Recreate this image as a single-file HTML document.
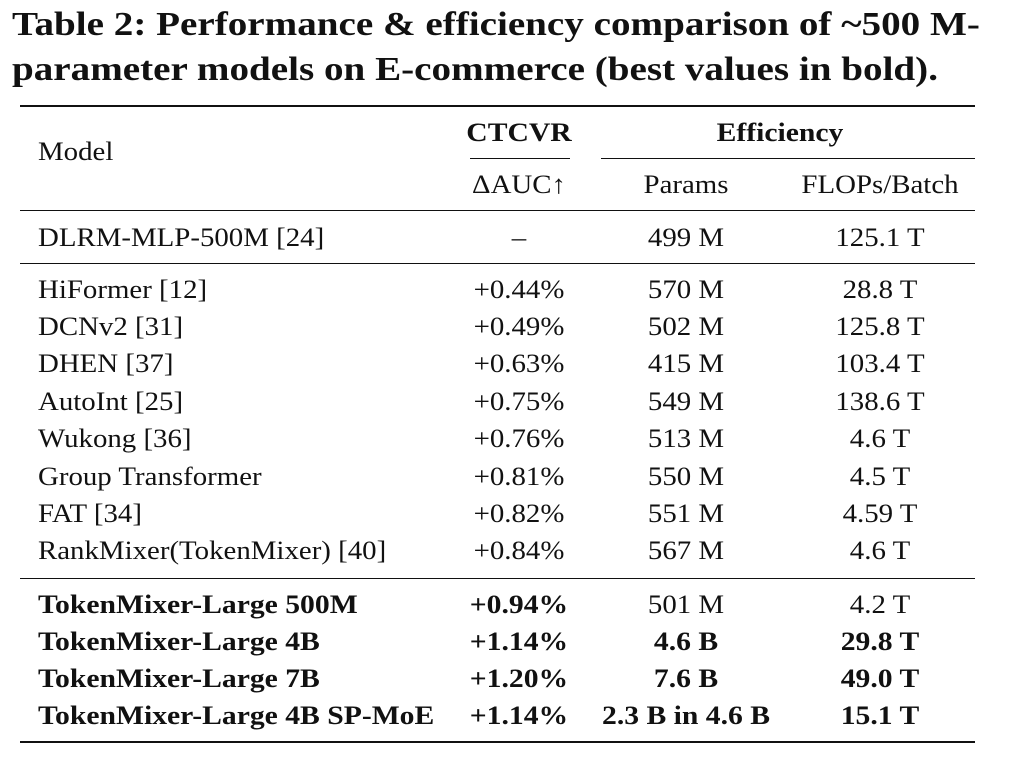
<!DOCTYPE html>
<html><head><meta charset="utf-8"><style>
body{margin:0;width:1009px;height:760px;background:#fff;position:relative;overflow:hidden;font-family:"Liberation Serif",serif;color:#111}
.t{position:absolute;white-space:nowrap;font-size:26px;line-height:30px;transform:scaleX(1.11);transform-origin:left center}
.c{transform:translateX(-50%) scaleX(1.11);transform-origin:center center}
.b{font-weight:bold}
.t.b{transform:scaleX(1.14)}
.t.c.b{transform:translateX(-50%) scaleX(1.14)}
.r{position:absolute;background:#111}
.title{position:absolute;left:12px;font-weight:bold;font-size:34px;line-height:40px;white-space:nowrap;transform:scaleX(1.15);transform-origin:left center}
</style></head><body>
<div class="title" style="top:5px">Table 2: Performance &amp; efficiency comparison of ~500 M-</div>
<div class="title" style="top:50px">parameter models on E-commerce (best values in bold).</div>
<div class="r" style="left:20px;width:955px;top:105px;height:2px"></div>
<div class="r" style="left:470px;width:100px;top:158px;height:1px"></div>
<div class="r" style="left:601px;width:374px;top:158px;height:1px"></div>
<div class="r" style="left:20px;width:955px;top:210px;height:1px"></div>
<div class="r" style="left:20px;width:955px;top:263px;height:1px"></div>
<div class="r" style="left:20px;width:955px;top:578px;height:1px"></div>
<div class="r" style="left:20px;width:955px;top:741px;height:2px"></div>
<div class="t" style="left:38px;top:137px">Model</div>
<div class="t c b" style="left:519px;top:118px">CTCVR</div>
<div class="t c b" style="left:780px;top:118px">Efficiency</div>
<div class="t c" style="left:519px;top:170px">ΔAUC↑</div>
<div class="t c" style="left:686px;top:170px">Params</div>
<div class="t c" style="left:880px;top:170px">FLOPs/Batch</div>
<div class="t" style="left:38px;top:223px">DLRM-MLP-500M [24]</div><div class="t c" style="left:519px;top:223px">–</div><div class="t c" style="left:686px;top:223px">499 M</div><div class="t c" style="left:880px;top:223px">125.1 T</div>
<div class="t" style="left:38px;top:275px">HiFormer [12]</div><div class="t c" style="left:519px;top:275px">+0.44%</div><div class="t c" style="left:686px;top:275px">570 M</div><div class="t c" style="left:880px;top:275px">28.8 T</div>
<div class="t" style="left:38px;top:312px">DCNv2 [31]</div><div class="t c" style="left:519px;top:312px">+0.49%</div><div class="t c" style="left:686px;top:312px">502 M</div><div class="t c" style="left:880px;top:312px">125.8 T</div>
<div class="t" style="left:38px;top:349px">DHEN [37]</div><div class="t c" style="left:519px;top:349px">+0.63%</div><div class="t c" style="left:686px;top:349px">415 M</div><div class="t c" style="left:880px;top:349px">103.4 T</div>
<div class="t" style="left:38px;top:387px">AutoInt [25]</div><div class="t c" style="left:519px;top:387px">+0.75%</div><div class="t c" style="left:686px;top:387px">549 M</div><div class="t c" style="left:880px;top:387px">138.6 T</div>
<div class="t" style="left:38px;top:424px">Wukong [36]</div><div class="t c" style="left:519px;top:424px">+0.76%</div><div class="t c" style="left:686px;top:424px">513 M</div><div class="t c" style="left:880px;top:424px">4.6 T</div>
<div class="t" style="left:38px;top:462px">Group Transformer</div><div class="t c" style="left:519px;top:462px">+0.81%</div><div class="t c" style="left:686px;top:462px">550 M</div><div class="t c" style="left:880px;top:462px">4.5 T</div>
<div class="t" style="left:38px;top:499px">FAT [34]</div><div class="t c" style="left:519px;top:499px">+0.82%</div><div class="t c" style="left:686px;top:499px">551 M</div><div class="t c" style="left:880px;top:499px">4.59 T</div>
<div class="t" style="left:38px;top:536px">RankMixer(TokenMixer) [40]</div><div class="t c" style="left:519px;top:536px">+0.84%</div><div class="t c" style="left:686px;top:536px">567 M</div><div class="t c" style="left:880px;top:536px">4.6 T</div>
<div class="t b" style="left:38px;top:590px">TokenMixer-Large 500M</div><div class="t c b" style="left:519px;top:590px">+0.94%</div><div class="t c" style="left:686px;top:590px">501 M</div><div class="t c" style="left:880px;top:590px">4.2 T</div>
<div class="t b" style="left:38px;top:627px">TokenMixer-Large 4B</div><div class="t c b" style="left:519px;top:627px">+1.14%</div><div class="t c b" style="left:686px;top:627px">4.6 B</div><div class="t c b" style="left:880px;top:627px">29.8 T</div>
<div class="t b" style="left:38px;top:664px">TokenMixer-Large 7B</div><div class="t c b" style="left:519px;top:664px">+1.20%</div><div class="t c b" style="left:686px;top:664px">7.6 B</div><div class="t c b" style="left:880px;top:664px">49.0 T</div>
<div class="t b" style="left:38px;top:701px">TokenMixer-Large 4B SP-MoE</div><div class="t c b" style="left:519px;top:701px">+1.14%</div><div class="t c b" style="left:686px;top:701px">2.3 B in 4.6 B</div><div class="t c b" style="left:880px;top:701px">15.1 T</div>
</body></html>
